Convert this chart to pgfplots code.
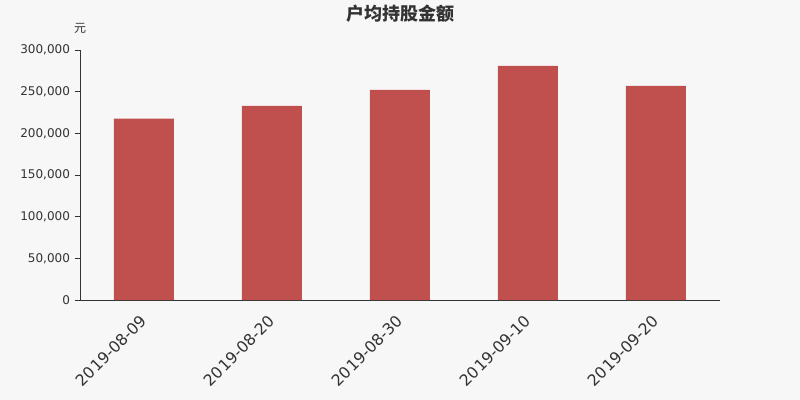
\documentclass[border=0pt]{standalone}
\usepackage{fontspec}
\setmainfont{DejaVu Sans}
\newfontfamily\cjk{Noto Sans CJK SC}
\usepackage{pgfplots}
\pgfplotsset{compat=1.18}
\definecolor{bgc}{HTML}{F7F7F7}
\definecolor{barc}{HTML}{C0504D}
\definecolor{axc}{HTML}{333333}
\begin{document}
\begin{tikzpicture}
% background, 800x400 px at 0.75pt per px
\fill[bgc] (-60pt,-75pt) rectangle (540pt,225pt);
\begin{axis}[
    at={(0pt,0pt)}, anchor=south west,
    scale only axis,
    width=480pt, height=187.5pt,
    ybar, bar width=45pt,
    xmin=-0.5, xmax=4.5,
    ymin=0, ymax=300000,
    axis x line*=bottom,
    axis y line*=left,
    axis line style={axc, line width=0.7pt},
    xtick={0,1,2,3,4},
    xticklabels={2019-08-09,2019-08-20,2019-08-30,2019-09-10,2019-09-20},
    xticklabel style={rotate=45, anchor=north east, font=\fontsize{11.8}{13}\selectfont, text=axc, inner sep=1pt, yshift=-1pt, xshift=-6pt},
    major x tick style={draw=none},
    extra x ticks={-0.5,0.5,1.5,2.5,3.5,4.5},
    extra x tick labels={},
    extra x tick style={tick style={axc, line width=0.7pt}, major tick length=4pt, tick align=outside, tick pos=bottom},
    ytick={0,50000,100000,150000,200000,250000,300000},
    yticklabel style={font=\fontsize{9}{11}\selectfont, text=axc},
    y tick style={axc, line width=0.7pt},
    tick align=outside,
    major tick length=4pt,
    ytick pos=left,
    /pgf/number format/fixed,
    /pgf/number format/1000 sep={,},
    /pgf/number format/assume math mode=true,
    scaled y ticks=false,
    clip=false,
]
\addplot[fill=barc, draw=none] coordinates {
    (0,217500) (1,233000) (2,252000) (3,281000) (4,257000)
};
\end{axis}
\node[font=\cjk\bfseries\fontsize{13.5}{15}\selectfont, text=axc] at (240pt,214.5pt) {户均持股金额};
\node[font=\cjk\fontsize{9}{10}\selectfont, text=axc] at (0pt,204pt) {元};
\pgfresetboundingbox
\path (-60pt,-75pt) rectangle (540pt,225pt);
\end{tikzpicture}
\end{document}
